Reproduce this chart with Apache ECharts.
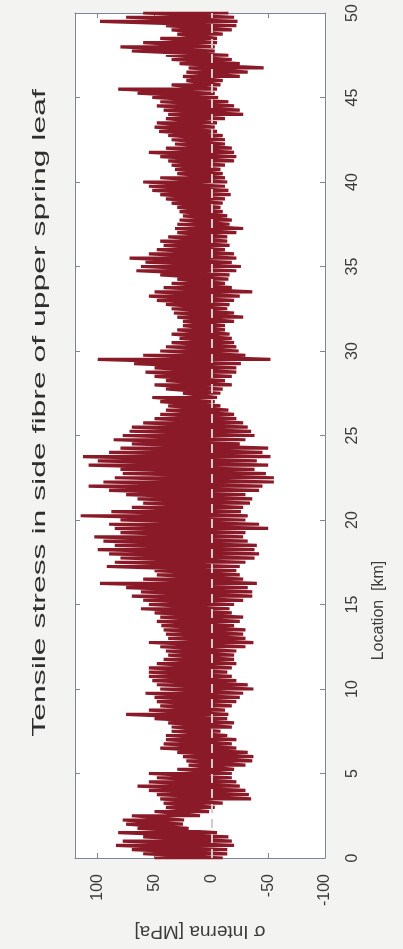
<!DOCTYPE html>
<html><head><meta charset="utf-8">
<script src="https://cdn.jsdelivr.net/npm/echarts@6/dist/echarts.min.js"></script>
<style>html,body{margin:0;padding:0;background:#f3f3f1;}#c{width:403px;height:949px;}</style>
</head><body><div id="c"></div>
<script>
const locationKm = [0,0.25,0.5,0.75,1,1.25,1.5,1.75,2,2.25,2.5,2.75,3,3.25,3.5,3.75,4,4.25,4.5,4.75,5,5.25,5.5,5.75,6,6.25,6.5,6.75,7,7.25,7.5,7.75,8,8.25,8.5,8.75,9,9.25,9.5,9.75,10,10.25,10.5,10.75,11,11.25,11.5,11.75,12,12.25,12.5,12.75,13,13.25,13.5,13.75,14,14.25,14.5,14.75,15,15.25,15.5,15.75,16,16.25,16.5,16.75,17,17.25,17.5,17.75,18,18.25,18.5,18.75,19,19.25,19.5,19.75,20,20.25,20.5,20.75,21,21.25,21.5,21.75,22,22.25,22.5,22.75,23,23.25,23.5,23.75,24,24.25,24.5,24.75,25,25.25,25.5,25.75,26,26.25,26.5,26.75,27,27.25,27.5,27.75,28,28.25,28.5,28.75,29,29.25,29.5,29.75,30,30.25,30.5,30.75,31,31.25,31.5,31.75,32,32.25,32.5,32.75,33,33.25,33.5,33.75,34,34.25,34.5,34.75,35,35.25,35.5,35.75,36,36.25,36.5,36.75,37,37.25,37.5,37.75,38,38.25,38.5,38.75,39,39.25,39.5,39.75,40,40.25,40.5,40.75,41,41.25,41.5,41.75,42,42.25,42.5,42.75,43,43.25,43.5,43.75,44,44.25,44.5,44.75,45,45.25,45.5,45.75,46,46.25,46.5,46.75,47,47.25,47.5,47.75,48,48.25,48.5,48.75,49,49.25,49.5,49.75,50];

const stressMax = [50,60,70,84, 78,60,82,65, 75,78,70,50, 40,42,45,48, 55,65,55,48, 55,30,20,22, 25,30,45,42, 40,40,35,35, 38,50,75,55, 45,48,50,58,
  45,48,52,55, 55,55,48,42, 38,40,45,55, 38,40,42,44, 48,45,50,62, 55,60,70,62, 75,98,60,48, 50,92,85,80, 90,100,85,95, 103,80,85,90,
  80,115,88,70, 60,65,75,90, 108,95,85,78, 80,108,100,113, 90,80,70,86, 78,72,70,60, 50,45,40,38, 45,52,25,40, 50,40,50,58, 50,68,100,60,
  45,40,35,28, 35,30,25,25, 30,33,35,40, 48,55,50,42, 35,30,45,66, 62,58,72,55, 48,42,45,38, 30,32,30,28, 25,28,30,35, 40,45,52,55,
  60,45,30,32, 35,38,45,55, 40,32,35,38, 46,50,48,40, 38,42,48,45, 52,65,82,35, 22,25,22,20, 28,35,40,70, 80,60,45,30, 35,40,98,75, 60];

const stressMin = [-10,-14,-14,-20, -18,-15,-5,20, 25,24,10,2, -3,-10,-35,-33, -30,-25,-22,-18, -18,-20,-30,-36, -37,-32,-22,-18, -22,-14,-8,-18, -20,-14,-15,-12, -18,-22,-25,-28,
  -37,-32,-22,-18, -14,-18,-22,-20, -20,-22,-30,-37, -30,-28,-30,-20, -25,-28,-18,-16, -20,-28,-36,-36, -32,-40,-28,-25, -22,-25,-30,-38, -42,-38,-40,-32, -28,-30,-50,-42,
  -30,-32,-26,-28, -34,-36,-30,-42, -45,-55,-55,-48, -38,-50,-40,-52, -45,-50,-25,-30, -38,-35,-32,-28, -22,-20,-15,-8, -3,-5,-8,-10, -18,-12,-18,-22, -22,-26,-52,-30,
  -24,-22,-20,-18, -16,-12,-12,-20, -28,-20,-14,-16, -20,-25,-36,-18, -12,-15,-16,-22, -26,-18,-22,-20, -12,-16,-14,-14, -22,-28,-16,-18, -14,-10,-8,-10, -12,-17,-15,-12,
  -14,-12,-10,-8, -12,-20,-22,-20, -18,-12,-12,-10, -5,-3,-5,-12, -28,-25,-20,-15, -6,-3,-5,-8, -10,-25,-32,-46, -25,-18,-15,-3, -3,-5,-5,-10, -18,-22,-23,-20, -15];

const stressTickLabels = [-100, -50, 0, 50, 100];
const locationTickLabels = [0, 5, 10, 15, 20, 25, 30, 35, 40, 45, 50];

const titleText = 'Tensile stress in side fibre of upper spring leaf';
const xName = 'σ Interna [MPa]';
const yName = 'Location  [km]';

const signal = [];
for (let i = 0; i < locationKm.length; i++) {
  signal.push([stressMax[i], locationKm[i]]);
  signal.push([stressMin[i], locationKm[i]]);
}

const FONT = '"Liberation Sans", Arial, sans-serif';
const frame = '#7d8596';
const txt = '#3c3c3c';

const chart = echarts.init(document.getElementById('c'), null, {renderer: 'canvas'});
const axisLineStyle = {show: true, onZero: false, lineStyle: {color: frame, width: 1}};
const tickStyle = {show: true, inside: true, length: 5, lineStyle: {color: frame, width: 1}};

chart.setOption({
  animation: false,
  backgroundColor: '#f3f3f1',
  grid: {left: 75, right: 78, top: 13, bottom: 91, show: true, backgroundColor: '#ffffff', borderWidth: 0},
  xAxis: [{
    type: 'value', position: 'bottom', inverse: true, min: -100, max: 120, interval: 50,
    axisLine: axisLineStyle, axisTick: tickStyle, splitLine: {show: false},
    axisLabel: {rotate: 90, fontSize: 16, color: txt, margin: 16, fontFamily: FONT,
      formatter: v => stressTickLabels.includes(v) ? String(v) : ''},
    name: xName, nameLocation: 'middle', nameRotate: 180, nameGap: 64,
    nameTextStyle: {fontSize: 19, color: txt, fontFamily: FONT}
  }, {
    type: 'value', position: 'top', inverse: true, min: -100, max: 120, interval: 50,
    axisLine: axisLineStyle, axisTick: tickStyle, splitLine: {show: false}, axisLabel: {show: false}
  }],
  yAxis: [{
    type: 'value', position: 'right', min: 0, max: 50, interval: 5,
    axisLine: axisLineStyle, axisTick: tickStyle, splitLine: {show: false},
    axisLabel: {rotate: 90, fontSize: 16, color: txt, margin: 20, fontFamily: FONT,
      formatter: v => locationTickLabels.includes(v) ? String(v) : ''},
    name: yName, nameLocation: 'middle', nameRotate: 90, nameGap: 46,
    nameTextStyle: {fontSize: 16, color: txt, fontFamily: FONT, padding: [0, 350, 0, 0]}
  }, {
    type: 'value', position: 'left', min: 0, max: 50, interval: 5,
    axisLine: axisLineStyle, axisTick: tickStyle, splitLine: {show: false}, axisLabel: {show: false}
  }],
  series: [{
    type: 'line', xAxisIndex: 0, yAxisIndex: 0, data: signal,
    symbol: 'none', showSymbol: false, clip: true,
    lineStyle: {color: '#8a1a27', width: 3.2},
    markLine: {
      silent: true, symbol: 'none', label: {show: false},
      lineStyle: {color: '#d2cbcb', type: [9, 6], width: 2},
      data: [{xAxis: 0}]
    }
  }],
  graphic: [{
    type: 'text', x: 40, y: 413, rotation: Math.PI / 2, scaleX: 1.68,
    style: {text: titleText, fontSize: 19, fontFamily: FONT, fill: '#2e2e2e', align: 'center', verticalAlign: 'middle'}
  }]
});
</script>
</body></html>
